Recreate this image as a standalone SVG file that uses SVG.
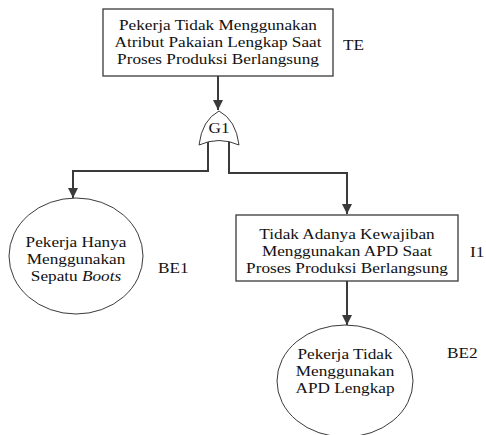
<svg xmlns="http://www.w3.org/2000/svg" width="486" height="435" viewBox="0 0 486 435">
<defs>
<marker id="arr" viewBox="0 0 10 10" refX="10" refY="5" markerWidth="10" markerHeight="10" markerUnits="userSpaceOnUse" orient="auto">
<path d="M0,0 L10,5 L0,10 Z" fill="#3a3a3a"/>
</marker>
</defs>
<style>
.box{fill:#fff;stroke:#3a3a3a;stroke-width:1.3}
.ell{fill:#fff;stroke:#3a3a3a;stroke-width:1}
.gate{fill:#fff;stroke:#3a3a3a;stroke-width:1}
.con{fill:none;stroke:#3a3a3a;stroke-width:2}
.t{font-family:"Liberation Serif","Times New Roman",serif;font-size:14px;fill:#111;text-anchor:middle}
.l{font-family:"Liberation Serif","Times New Roman",serif;font-size:14px;fill:#111;text-anchor:start}
</style>
<rect width="486" height="435" fill="#fff"/>
<g id="connectors">
<path class="con" d="M218,76 V110" marker-end="url(#arr)"/>
<path class="con" d="M208,142 V171 H73 V198" marker-end="url(#arr)"/>
<path class="con" d="M229,142 V173 H347 V214" marker-end="url(#arr)"/>
<path class="con" d="M347,281 V325" marker-end="url(#arr)"/>
</g>
<g id="TE">
<rect class="box" x="103" y="9" width="230" height="67"/>
<text class="t" transform="translate(218,30) scale(1.23,1)">Pekerja Tidak Menggunakan</text>
<text class="t" transform="translate(218,47) scale(1.23,1)">Atribut Pakaian Lengkap Saat</text>
<text class="t" transform="translate(218,64) scale(1.23,1)">Proses Produksi Berlangsung</text>
<text class="l" transform="translate(343,50) scale(1.23,1)">TE</text>
</g>
<g id="G1">
<path class="gate" d="M199,145 Q202,120 219,111 Q236,120 239,145 Q219,136 199,145 Z"/>
<text class="t" transform="translate(219,133) scale(1.23,1)">G1</text>
</g>
<g id="BE1">
<ellipse class="ell" cx="76" cy="256" rx="67" ry="58"/>
<text class="t" transform="translate(76,247) scale(1.23,1)">Pekerja Hanya</text>
<text class="t" transform="translate(76,264) scale(1.23,1)">Menggunakan</text>
<text class="t" transform="translate(76,281) scale(1.23,1)">Sepatu <tspan font-style="italic">Boots</tspan></text>
<text class="l" transform="translate(158,273) scale(1.23,1)">BE1</text>
</g>
<g id="I1">
<rect class="box" x="236" y="215" width="222" height="66"/>
<text class="t" transform="translate(347,239) scale(1.23,1)">Tidak Adanya Kewajiban</text>
<text class="t" transform="translate(347,256) scale(1.23,1)">Menggunakan APD Saat</text>
<text class="t" transform="translate(347,273) scale(1.23,1)">Proses Produksi Berlangsung</text>
<text class="l" transform="translate(470,257) scale(1.23,1)">I1</text>
</g>
<g id="BE2">
<ellipse class="ell" cx="345" cy="381" rx="68" ry="56"/>
<text class="t" transform="translate(345,359) scale(1.23,1)">Pekerja Tidak</text>
<text class="t" transform="translate(345,376) scale(1.23,1)">Menggunakan</text>
<text class="t" transform="translate(345,393) scale(1.23,1)">APD Lengkap</text>
<text class="l" transform="translate(447,358) scale(1.23,1)">BE2</text>
</g>
</svg>
